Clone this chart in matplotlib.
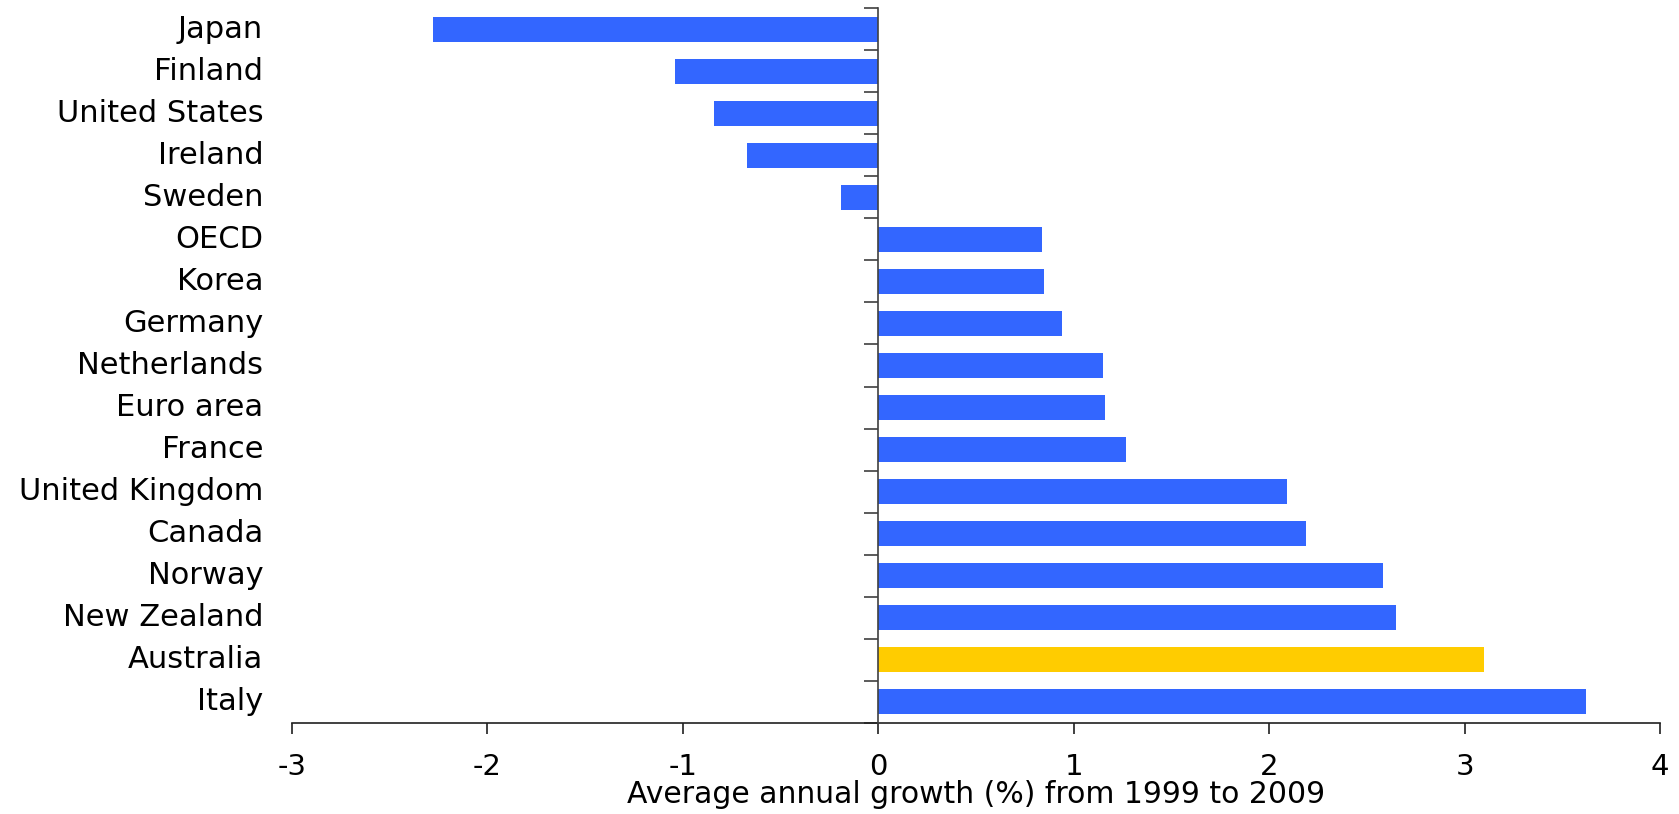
import matplotlib
matplotlib.use("Agg")
import matplotlib.pyplot as plt
import numpy as np

countries = ["Japan", "Finland", "United States", "Ireland", "Sweden", "OECD",
             "Korea", "Germany", "Netherlands", "Euro area", "France",
             "United Kingdom", "Canada", "Norway", "New Zealand", "Australia", "Italy"]
growth = [-2.28, -1.04, -0.84, -0.67, -0.19, 0.84, 0.85, 0.94, 1.15, 1.16, 1.27,
          2.09, 2.19, 2.58, 2.65, 3.10, 3.62]
highlight = "Australia"
x_ticks = [-3, -2, -1, 0, 1, 2, 3, 4]
x_label = "Average annual growth (%) from 1999 to 2009"

BLUE = "#3366FF"
YELLOW = "#FFCC00"

plt.rcParams['font.family'] = ['DejaVu Sans']

fig = plt.figure(figsize=(16.79, 8.14), dpi=100)
ax = fig.add_axes([0.1739, 0.112, 0.8148, 0.878])

y = np.arange(len(countries))
colors = [YELLOW if c == highlight else BLUE for c in countries]
ax.barh(y, growth, height=0.6, color=colors, zorder=2)

ax.set_xlim(-3, 4)
ax.set_ylim(len(countries) - 0.5, -0.5)

for s in ['top', 'right']:
    ax.spines[s].set_visible(False)
ax.spines['left'].set_position(('data', 0))
ax.spines['left'].set_color('#404040')
ax.spines['left'].set_linewidth(1.2)
ax.spines['left'].set_zorder(3)
ax.spines['bottom'].set_color('#202020')
ax.spines['bottom'].set_linewidth(1.2)

ax.set_yticks(np.arange(len(countries) + 1) - 0.5)
ax.set_yticklabels([])
ax.tick_params(axis='y', direction='out', length=10, width=1.2, color='#404040')

ax.set_xticks(x_ticks)
ax.set_xticklabels([str(v) for v in x_ticks])
ax.tick_params(axis='x', direction='out', length=8, width=1.2, color='#202020',
               labelsize=21, pad=14)

trans = ax.get_yaxis_transform()
for yi, name in zip(y, countries):
    ax.text(-0.021, yi, name, transform=trans, ha='right', va='center', fontsize=22)

ax.set_xlabel(x_label, fontsize=21.5, labelpad=-1)

fig.savefig("out.png", dpi=100)
